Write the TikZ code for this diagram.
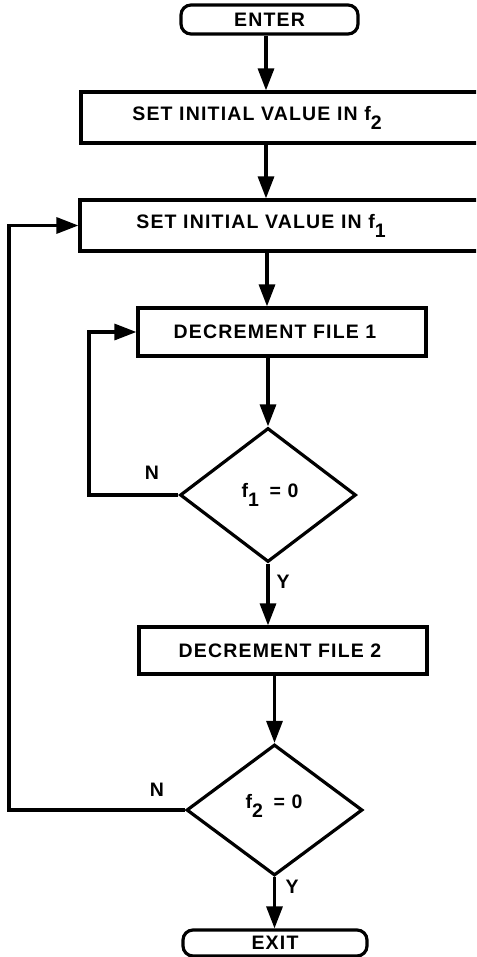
\documentclass[tikz,border=0pt]{standalone}
\usepackage{fontspec}
\setmainfont{Liberation Sans}[LetterSpace=6]
\usetikzlibrary{arrows.meta,shapes.geometric}
\newcommand\lowsub[1]{\raisebox{-0.42em}{#1}}
\begin{document}
\begin{tikzpicture}[x=1pt,y=-1pt,
  lbl/.style={font=\bfseries\fontsize{19.5}{21}\selectfont, inner sep=0pt},
  frame/.style={draw, line width=3.2pt, inner sep=0pt},
  term/.style={frame, rounded corners=10pt, lbl},
  dec/.style={diamond, draw, line width=3.2pt, inner sep=0pt, minimum width=176pt},
  arr/.style={line width=3.2pt, -{Triangle[length=22pt,width=16pt]}}]
\clip (0,0) rectangle (476,957);
% nodes
\node[term, minimum width=177pt, minimum height=29pt] (enter) at (269.5,19.5) {ENTER};
\node[frame, minimum width=404pt, minimum height=51pt] (b1) at (283,117.5) {};
\node[lbl] (t1) at (257,118) {SET INITIAL VALUE IN f\lowsub{2}};
\node[frame, minimum width=406pt, minimum height=51pt] (b2) at (283,225.5) {};
\node[lbl] (t2) at (261,226) {SET INITIAL VALUE IN f\lowsub{1}};
\node[frame, minimum width=288pt, minimum height=48pt] (d1) at (282,332) {};
\node[lbl] (t3) at (275,332) {DECREMENT FILE 1};
\node[dec, minimum height=134pt] (q1) at (268,495) {};
\node[lbl] (t4) at (270,495) {f\lowsub{1}\hspace{0.55em}= 0};
\node[frame, minimum width=288pt, minimum height=47pt] (d2) at (283,650.5) {};
\node[lbl] (t5) at (280,651) {DECREMENT FILE 2};
\node[dec, minimum height=131pt] (q2) at (274.5,810) {};
\node[lbl] (t6) at (274,806) {f\lowsub{2}\hspace{0.55em}= 0};
\node[term, minimum width=184pt, minimum height=26pt] (exit) at (275,943) {EXIT};
% labels
\node[lbl] (n1) at (152,473) {N};
\node[lbl] (y1) at (283,582) {Y};
\node[lbl] (n2) at (157,790) {N};
\node[lbl] (y2) at (292,887) {Y};
% helper coordinates
\coordinate (xa) at (266,0);
\coordinate (xb) at (267,0);
\coordinate (l1) at (89,495);
\coordinate (l2) at (9,810);
% connectors
\draw[arr] (enter.south -| xa) -- (b1.north -| xa);
\draw[arr] (b1.south -| xa) -- (b2.north -| xa);
\draw[arr] (b2.south -| xb) -- (d1.north -| xb);
\draw[arr] (d1.south -| q1.north) -- (q1.north);
\draw[arr] (q1.south) -- (d2.north -| q1.south);
\draw[arr] (d2.south -| q2.north) -- (q2.north);
\draw[arr] (q2.south) -- (exit.north -| q2.south);
\draw[arr] (q1.west) -- (l1) |- (d1.west);
\draw[arr] (q2.west) -- (l2) |- (b2.west);
\end{tikzpicture}
\end{document}
